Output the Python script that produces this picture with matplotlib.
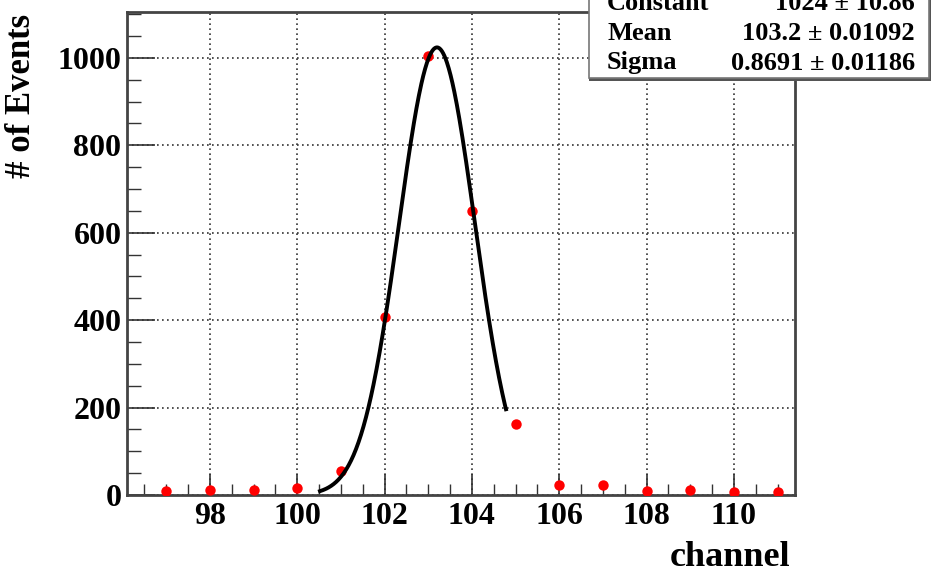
import numpy as np
import matplotlib
matplotlib.use('Agg')
import matplotlib.pyplot as plt
from matplotlib.patches import Rectangle
from matplotlib.ticker import MultipleLocator

# histogram contents (bin centre, entries)
channels = [97, 98, 99, 100, 101, 102, 103, 104, 105, 106, 107, 108, 109, 110, 111]
counts = [10, 12, 12, 15, 55, 408, 1005, 650, 163, 22, 22, 10, 12, 8, 8]

# gaussian fit result
fitConstant = 1024.0
fitMean = 103.2
fitSigma = 0.8691
fitRange = (100.52, 104.78)

statsNames = ['Constant', 'Mean', 'Sigma']
statsValues = ['1024 ± 10.86', '103.2 ± 0.01092', '0.8691 ± 0.01186']

W, H = 932, 572
plt.rcParams['font.family'] = ['Liberation Serif', 'DejaVu Serif']
plt.rcParams['font.weight'] = 'bold'

fig = plt.figure(figsize=(W / 100, H / 100), dpi=100)
ax = fig.add_axes([127 / W, 1 - 495 / H, (795 - 127) / W, (495 - 12) / H])

ax.plot(channels, counts, 'o', color='red', markersize=7.5, markeredgewidth=0, zorder=3)

xf = np.linspace(fitRange[0], fitRange[1], 300)
yf = fitConstant * np.exp(-0.5 * ((xf - fitMean) / fitSigma) ** 2)
ax.plot(xf, yf, color='black', lw=2.8, zorder=4)

ax.set_xlim(96.1, 111.4)
ax.set_ylim(0, 1105)
ax.xaxis.set_major_locator(MultipleLocator(2))
ax.xaxis.set_minor_locator(MultipleLocator(0.5))
ax.yaxis.set_major_locator(MultipleLocator(200))
ax.yaxis.set_minor_locator(MultipleLocator(50))
ax.set_xticks([98, 100, 102, 104, 106, 108, 110])
ax.grid(True, which='major', ls=(0, (1, 2)), color='#333333', lw=1.2)

ax.tick_params(which='major', direction='in', length=15, width=1.2, labelsize=23, color='#333333')
ax.tick_params(which='minor', direction='in', length=8, width=1.0, color='#333333')
ax.tick_params(axis='x', which='major', pad=5)
ax.tick_params(axis='y', which='major', length=20, pad=4)
ax.tick_params(axis='y', which='minor', length=10)
for lab in ax.get_xticklabels() + ax.get_yticklabels():
    lab.set_fontweight('bold')
for sp in ax.spines.values():
    sp.set_linewidth(2.0)
    sp.set_color('#444444')

fig.text(22 / W, 1 - 96 / H, '# of Events', rotation=90, ha='center', va='center', fontsize=25, fontweight='bold')
fig.text(790 / W, 1 - 557 / H, 'channel', ha='right', va='center', fontsize=26, fontweight='bold')

# stats box (partly outside the canvas, as in ROOT)
bx0, bx1, by = 589, 931, 78
fig.patches.append(Rectangle((bx0 / W, 1 - (by + 3) / H), (bx1 - bx0) / W, (by + 50) / H,
                             transform=fig.transFigure, facecolor='#555555', edgecolor='none', zorder=5))
fig.patches.append(Rectangle((bx0 / W, 1 - by / H), (bx1 - bx0 - 2) / W, (by + 50) / H,
                             transform=fig.transFigure, facecolor='white', edgecolor='#777777', lw=1.2, zorder=6))
rowsY = [4, 34, 63]
for name, val, yy in zip(statsNames, statsValues, rowsY):
    fig.text(607 / W, 1 - yy / H, name, ha='left', va='center', fontsize=19, fontweight='bold', zorder=7)
    fig.text(915 / W, 1 - yy / H, val, ha='right', va='center', fontsize=19, fontweight='bold', zorder=7)

fig.savefig('out.png', dpi=100)
